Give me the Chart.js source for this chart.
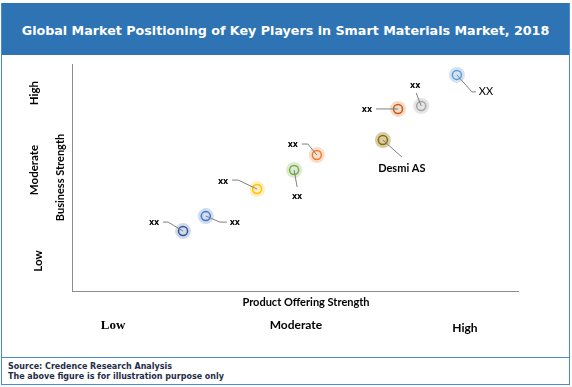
<!DOCTYPE html>
<html>
<head>
<meta charset="utf-8">
<script src="https://cdn.jsdelivr.net/npm/chart.js@4.4.0/dist/chart.umd.min.js"></script>
<style>
body { margin: 0; background: #fff; }
#box { position: relative; width: 572px; height: 387px; overflow: hidden; }
#frame { position: absolute; left: 1px; top: 3px; width: 567px; height: 380px; border: 1px solid #4A8CD4; }
#head { position: absolute; left: 2px; top: 3px; width: 567px; height: 52px; background: #2E74B5; color: #fff;
        font: bold 12.7px "DejaVu Sans"; text-align: center; line-height: 56px; white-space: nowrap; }
#foot { position: absolute; left: 2px; top: 357px; width: 567px; border-top: 1px solid #4A8CD4;
        font: bold 8px "DejaVu Sans"; color: #1F2D4A; line-height: 10px; padding: 4px 0 0 6px; box-sizing: border-box; }
#wrap { position: absolute; left: 0; top: 0; width: 572px; height: 387px; }
</style>
</head>
<body>
<div id="box">
  <div id="frame"></div>
  <div id="head">Global Market Positioning of Key Players in Smart Materials Market, 2018</div>
  <div id="foot">Source: Credence Research Analysis<br>The above figure is for illustration purpose only</div>
  <div id="wrap"><canvas id="chart"></canvas></div>
</div>
<script>
// players and their position on the matrix (0-100 on both axes)
const players = ['xx', 'xx', 'xx', 'xx', 'xx', 'Desmi AS', 'xx', 'xx', 'XX'];
const offering = [24.9, 30.0, 41.5, 49.8, 54.9, 69.7, 73.1, 78.3, 86.3];
const business = [26.4, 33.0, 44.9, 53.3, 59.9, 66.5, 80.2, 81.5, 95.2];

// level labels along the axes
const levels = ['Low', 'Moderate', 'High'];

// styling
const ringColors = ['#2F5597', '#4472C4', '#FFC000', '#70AD47', '#ED7D31', '#8C6D00', '#C55A11', '#A5A5A5', '#5B9BD5'];
const haloColors = ['rgba(47,85,151,0.22)', 'rgba(68,114,196,0.25)', 'rgba(255,192,0,0.25)', 'rgba(112,173,71,0.25)',
                    'rgba(237,125,49,0.25)', 'rgba(140,109,0,0.35)', 'rgba(197,90,17,0.22)', 'rgba(165,165,165,0.3)', 'rgba(91,155,213,0.28)'];
// leader lines (pixel offsets from the point) and label offsets
const leaders = [
  [[-15, -9], [-20, -9]],
  [[14, 6], [21, 6]],
  [[-19, -9], [-25, -9]],
  [[3, 17]],
  [[-9, -11], [-15, -11]],
  [[19, 17]],
  [[-22, 0]],
  [[-5, -13]],
  [[15, 17], [19, 17]]
];
const labelPos = [[-29, -8], [29, 7], [-34, -7], [3, 27], [-24, -10], [19, 28], [-31, 1], [-6, -20], [29, 17]];
const labelFonts = ['bold 8px "DejaVu Sans"', 'bold 8px "DejaVu Sans"', 'bold 8px "DejaVu Sans"', 'bold 8px "DejaVu Sans"',
                    'bold 8px "DejaVu Sans"', 'bold 11px Lato', 'bold 8px "DejaVu Sans"', 'bold 8px "DejaVu Sans"', '11px Lato'];

const yLevelAt = [13.2, 53.3, 87.2];
const xLevelAt = [9.2, 50.2, 88.1];
const xLevelFonts = ['bold 13px "Liberation Serif"', 'bold 12px Lato', 'bold 12px Lato'];

const points = offering.map((x, i) => ({ x: x, y: business[i] }));

const annotate = {
  id: 'annotate',
  afterDatasetsDraw(chart) {
    const ctx = chart.ctx;
    const meta = chart.getDatasetMeta(1);
    ctx.save();
    ctx.strokeStyle = '#7F7F7F';
    ctx.lineWidth = 1;
    ctx.fillStyle = '#000';
    ctx.textAlign = 'center';
    ctx.textBaseline = 'middle';
    meta.data.forEach((pt, i) => {
      ctx.beginPath();
      ctx.moveTo(pt.x, pt.y);
      leaders[i].forEach(o => ctx.lineTo(pt.x + o[0], pt.y + o[1]));
      ctx.stroke();
      ctx.font = labelFonts[i];
      ctx.fillText(players[i], pt.x + labelPos[i][0], pt.y + labelPos[i][1]);
    });

    const xs = chart.scales.x, ys = chart.scales.y;
    // x axis title
    ctx.font = 'bold 11px Lato';
    ctx.fillText('Product Offering Strength', 306, xs.top + 11);
    // x levels
    levels.forEach((t, i) => {
      ctx.font = xLevelFonts[i];
      ctx.fillText(t, xs.getPixelForValue(xLevelAt[i]), [326, 325, 328][i]);
    });
    // y levels
    levels.forEach((t, i) => {
      ctx.save();
      ctx.translate([38, 34, 34][i], ys.getPixelForValue(yLevelAt[i]));
      ctx.rotate(-Math.PI / 2);
      ctx.font = 'bold 11.5px Lato';
      ctx.fillText(t, 0, 0);
      ctx.restore();
    });
    ctx.restore();
  }
};

new Chart(document.getElementById('chart'), {
  type: 'scatter',
  data: {
    datasets: [{
      data: points,
      pointRadius: 8,
      pointHoverRadius: 8,
      pointBackgroundColor: haloColors,
      pointBorderWidth: 0
    }, {
      data: points,
      pointRadius: 4.5,
      pointHoverRadius: 4.5,
      pointBackgroundColor: 'rgba(255,255,255,0.65)',
      pointBorderColor: ringColors,
      pointBorderWidth: 1.5
    }]
  },
  plugins: [annotate],
  options: {
    responsive: true,
    maintainAspectRatio: false,
    animation: false,
    layout: { padding: { left: 53.4, right: 54, top: 64, bottom: 96 } },
    plugins: { legend: { display: false }, tooltip: { enabled: false } },
    scales: {
      x: {
        min: 0, max: 100,
        grid: { display: false, drawTicks: false },
        border: { display: true, color: '#8C8C8C', width: 1 },
        ticks: { display: false }
      },
      y: {
        min: 0, max: 100,
        grid: { display: false, drawTicks: false },
        border: { display: true, color: '#8C8C8C', width: 1 },
        ticks: { display: false },
        title: {
          display: true, text: 'Business Strength', color: '#000',
          font: { family: 'Lato', weight: 'bold', size: 11 },
          padding: { top: 0, bottom: 5.4 }
        }
      }
    }
  }
});
</script>
</body>
</html>
